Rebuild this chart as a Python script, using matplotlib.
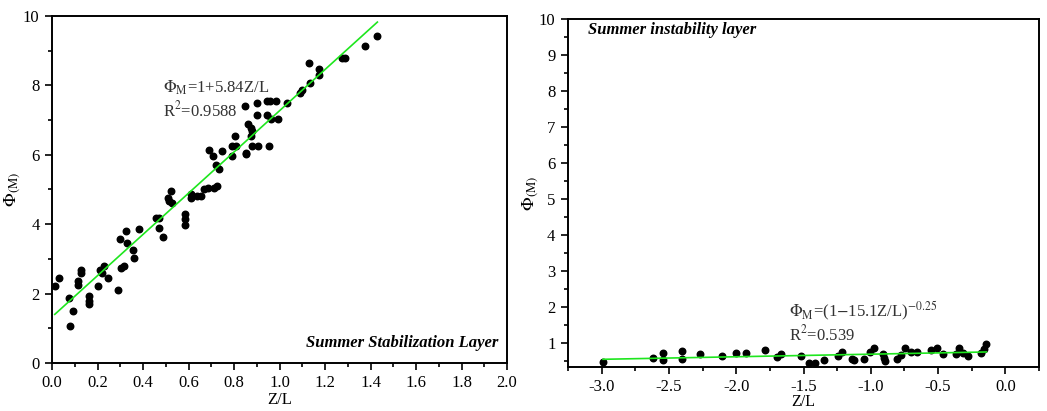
import numpy as np
import matplotlib
matplotlib.use("Agg")
import matplotlib.pyplot as plt
from matplotlib.ticker import MultipleLocator, FormatStrFormatter

plt.rcParams['font.family'] = ['Liberation Serif', 'DejaVu Serif']
plt.rcParams['mathtext.fontset'] = 'stix'
plt.rcParams['axes.unicode_minus'] = False

# stable layer (Z/L > 0)
stable_x = [0.012, 0.029, 0.075, 0.079, 0.092, 0.116, 0.116, 0.127, 0.129, 0.161,
            0.161, 0.162, 0.202, 0.212, 0.219, 0.230, 0.246, 0.291, 0.298, 0.303,
            0.317, 0.325, 0.328, 0.358, 0.360, 0.383, 0.455, 0.470, 0.471, 0.487,
            0.509, 0.512, 0.522, 0.527, 0.585, 0.585, 0.585, 0.610, 0.610, 0.639,
            0.654, 0.669, 0.684, 0.691, 0.707, 0.712, 0.724, 0.721, 0.736, 0.749,
            0.793, 0.793, 0.805, 0.808, 0.846, 0.851, 0.851, 0.860, 0.873, 0.878,
            0.876, 0.881, 0.900, 0.903, 0.907, 0.944, 0.945, 0.958, 0.952, 0.964,
            0.986, 0.992, 1.031, 1.089, 1.100, 1.128, 1.132, 1.172, 1.175, 1.273,
            1.287, 1.374, 1.429]
stable_y = [2.21, 2.46, 1.875, 1.06, 1.49, 2.36, 2.26, 2.69, 2.60, 1.92,
            1.78, 1.69, 2.21, 2.67, 2.59, 2.79, 2.45, 2.11, 3.57, 2.74,
            2.79, 3.80, 3.46, 3.27, 3.03, 3.85, 4.18, 4.18, 3.89, 3.64,
            4.76, 4.66, 4.95, 4.62, 4.28, 4.16, 3.99, 4.86, 4.76, 4.81,
            4.81, 5.00, 5.04, 6.15, 5.96, 5.04, 5.10, 5.72, 5.58, 6.11,
            5.96, 6.24, 6.54, 6.24, 7.40, 6.01, 6.06, 6.875, 6.78, 6.68,
            6.54, 6.24, 7.50, 7.16, 6.24, 7.55, 7.16, 7.55, 6.24, 7.02,
            7.55, 7.02, 7.50, 7.79, 7.87, 8.65, 8.08, 8.46, 8.31, 8.80,
            8.80, 9.125, 9.41]
stable_fit_x = [0.012, 1.43]
stable_fit_a, stable_fit_b = 1.33, 5.94

# unstable layer (Z/L < 0)
unstable_x = [-2.988, -2.62, -2.546, -2.546, -2.40, -2.40, -2.269, -2.105, -2.003, -1.931,
              -1.783, -1.698, -1.666, -1.522, -1.46, -1.418, -1.346, -1.244, -1.215, -1.143,
              -1.125, -1.054, -1.009, -0.977, -0.910, -0.905, -0.892, -0.806, -0.778, -0.744,
              -0.699, -0.657, -0.555, -0.508, -0.463, -0.364, -0.347, -0.315, -0.275, -0.183,
              -0.161, -0.141]
unstable_y = [0.46, 0.57, 0.72, 0.53, 0.76, 0.555, 0.675, 0.63, 0.71, 0.71,
              0.79, 0.60, 0.67, 0.63, 0.44, 0.44, 0.51, 0.62, 0.74, 0.555,
              0.51, 0.54, 0.74, 0.85, 0.67, 0.57, 0.48, 0.555, 0.65, 0.85,
              0.74, 0.74, 0.80, 0.85, 0.69, 0.69, 0.85, 0.71, 0.62, 0.72,
              0.83, 0.97]
unstable_fit_x = [-2.99, -0.141]
unstable_fit_y = [0.536, 0.74]

fig = plt.figure(figsize=(10.47, 4.11), dpi=100)
ax1 = fig.add_axes([0.0497, 0.1168, 0.4346, 0.8443])
ax2 = fig.add_axes([0.5425, 0.1078, 0.4499, 0.8448])

green = '#1ee61e'
txt_col = '#333333'

for ax in (ax1, ax2):
    for s in ax.spines.values():
        s.set_linewidth(1.4)
    ax.tick_params(which='both', direction='out', labelsize=12, width=1.2, pad=4)
    ax.tick_params(which='major', length=5)
    ax.tick_params(which='minor', length=3)

# left
ax1.scatter(stable_x, stable_y, s=22, color='black', zorder=3)
fx = np.array(stable_fit_x)
ax1.plot(fx, stable_fit_a + stable_fit_b * fx, color=green, lw=1.2, zorder=4)
ax1.set_xlim(0, 2.0)
ax1.set_ylim(0, 10)
ax1.xaxis.set_major_locator(MultipleLocator(0.2))
ax1.xaxis.set_minor_locator(MultipleLocator(0.1))
ax1.yaxis.set_major_locator(MultipleLocator(2))
ax1.yaxis.set_minor_locator(MultipleLocator(1))
ax1.xaxis.set_major_formatter(FormatStrFormatter('%.1f'))
ax1.set_xlabel('Z/L', fontsize=12)
ax1.set_ylabel(r'$\Phi_{\mathrm{(M)}}$', fontsize=13)
ax1.xaxis.set_label_coords(0.5, -0.085)
ax1.yaxis.set_label_coords(-0.064, 0.5)
ax1.text(0.487, 7.8, r'$\Phi_\mathrm{M}$=1+5.84Z/L', fontsize=12, color=txt_col)
ax1.text(0.487, 7.1, r'R$^2$=0.9588', fontsize=12, color=txt_col)
ax1.text(1.96, 0.35, 'Summer Stabilization Layer', fontsize=12, fontweight='bold',
         fontstyle='italic', ha='right', va='bottom')

# right
ax2.scatter(unstable_x, unstable_y, s=22, color='black', zorder=3)
ax2.plot(unstable_fit_x, unstable_fit_y, color=green, lw=1.2, zorder=4)
ax2.set_xlim(-3.25, 0.25)
ax2.set_ylim(0.33, 10)
ax2.xaxis.set_major_locator(MultipleLocator(0.5))
ax2.xaxis.set_minor_locator(MultipleLocator(0.25))
ax2.yaxis.set_major_locator(MultipleLocator(1))
ax2.yaxis.set_minor_locator(MultipleLocator(0.5))
ax2.xaxis.set_major_formatter(FormatStrFormatter('%.1f'))
ax2.set_xlabel('Z/L', fontsize=11.5)
ax2.set_ylabel(r'$\Phi_{\mathrm{(M)}}$', fontsize=13)
ax2.xaxis.set_label_coords(0.5, -0.08)
ax2.yaxis.set_label_coords(-0.057, 0.5)
ax2.text(-1.609, 1.72, r'$\Phi_\mathrm{M}$=(1$-$15.1Z/L)$^{-0.25}$', fontsize=12, color=txt_col)
ax2.text(-1.609, 1.06, r'R$^2$=0.539', fontsize=12, color=txt_col)
ax2.text(-3.1, 9.72, 'Summer instability layer', fontsize=12, fontweight='bold',
         fontstyle='italic', ha='left', va='center')

fig.savefig('out.png', dpi=100)
